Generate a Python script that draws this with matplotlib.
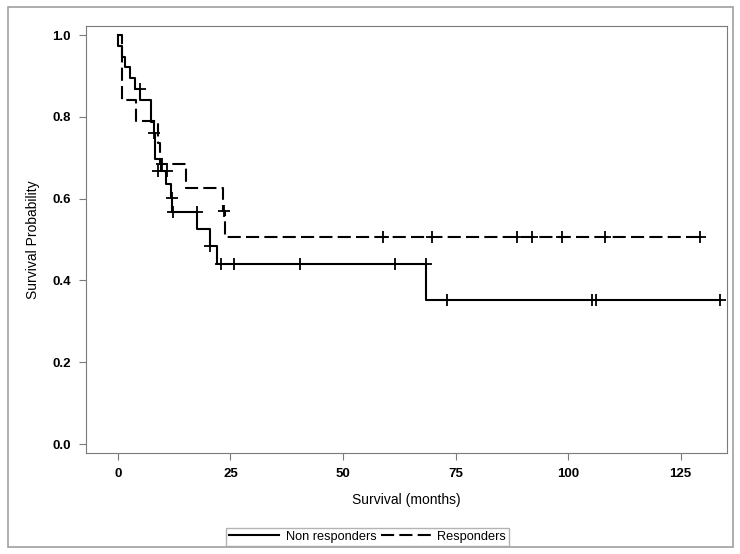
import matplotlib
matplotlib.use("Agg")
import matplotlib.pyplot as plt
from matplotlib.patches import Rectangle

plt.rcParams["font.family"] = ["Liberation Sans Narrow", "Liberation Sans", "DejaVu Sans"]

# Kaplan-Meier step data (time in months, survival after each event)
nr_time = [0, 0, 0.8, 1.6, 2.6, 3.7, 4.9, 7.4, 7.9, 8.2, 9.5, 10.6, 11.8, 12.0,
           17.6, 20.4, 21.9, 68.4, 133.7]
nr_surv = [1.0, 0.974, 0.947, 0.921, 0.895, 0.868, 0.841, 0.787, 0.760, 0.697,
           0.667, 0.636, 0.601, 0.567, 0.526, 0.483, 0.439, 0.352, 0.352]
nr_cens_time = [4.8, 7.9, 8.9, 10.8, 11.9, 12.3, 17.5, 20.4, 23.0, 25.7, 40.4,
                61.6, 68.4, 73.1, 105.3, 106.3, 133.7]
nr_cens_surv = [0.868, 0.760, 0.667, 0.667, 0.601, 0.567, 0.567, 0.483, 0.439,
                0.439, 0.439, 0.439, 0.439, 0.352, 0.352, 0.352, 0.352]

r_time = [0, 1.0, 4.0, 9.0, 9.3, 15.1, 23.3, 23.7, 129.4]
r_surv = [1.0, 0.842, 0.789, 0.737, 0.684, 0.627, 0.570, 0.507, 0.507]
r_cens_time = [9.7, 23.5, 58.8, 69.8, 88.6, 91.9, 98.7, 108.1, 129.4]
r_cens_surv = [0.684, 0.570, 0.507, 0.507, 0.507, 0.507, 0.507, 0.507, 0.507]

x_ticks = [0, 25, 50, 75, 100, 125]
y_ticks = [0.0, 0.2, 0.4, 0.6, 0.8, 1.0]

fig = plt.figure(figsize=(7.4, 5.54), dpi=100)
ax = fig.add_axes([0.1162, 0.1823, 0.8662, 0.7707])

dash = (0, (6.3, 2.5))
ax.step(nr_time, nr_surv, where="post", color="black", lw=1.5,
        label="Non responders")
ax.step(r_time, r_surv, where="post", color="black", lw=1.5, linestyle=dash,
        label="Responders")
ax.plot(nr_cens_time, nr_cens_surv, "+", color="black", ms=8, mew=1.3)
ax.plot(r_cens_time, r_cens_surv, "+", color="black", ms=8, mew=1.3)

ax.set_xlim(-7.1, 135.3)
ax.set_ylim(-0.022, 1.022)
ax.set_xticks(x_ticks)
ax.set_yticks(y_ticks)
ax.set_xticklabels([str(t) for t in x_ticks], fontsize=9.5, fontweight="bold")
ax.set_yticklabels([f"{t:.1f}" for t in y_ticks], fontsize=9.5, fontweight="bold")
ax.tick_params(length=5, color="#7a7a7a", pad=6)
for s in ax.spines.values():
    s.set_color("#7a7a7a")
ax.set_xlabel("Survival (months)", fontsize=10, labelpad=9)
ax.set_ylabel("Survival Probability", fontsize=10, labelpad=9)

leg = fig.legend(loc="lower center", bbox_to_anchor=(0.497, 0.003), ncol=2,
                 frameon=True, fancybox=False, edgecolor="#a0a0a0",
                 fontsize=9.2, handlelength=3.9, columnspacing=0.4,
                 handletextpad=0.5, borderpad=0.25)
leg.get_frame().set_linewidth(1.0)

fig.patches.append(Rectangle((0.011, 0.013), 0.979, 0.974, transform=fig.transFigure,
                             fill=False, edgecolor="#a0a0a0", lw=1.2))

fig.savefig("out.png", dpi=100)
